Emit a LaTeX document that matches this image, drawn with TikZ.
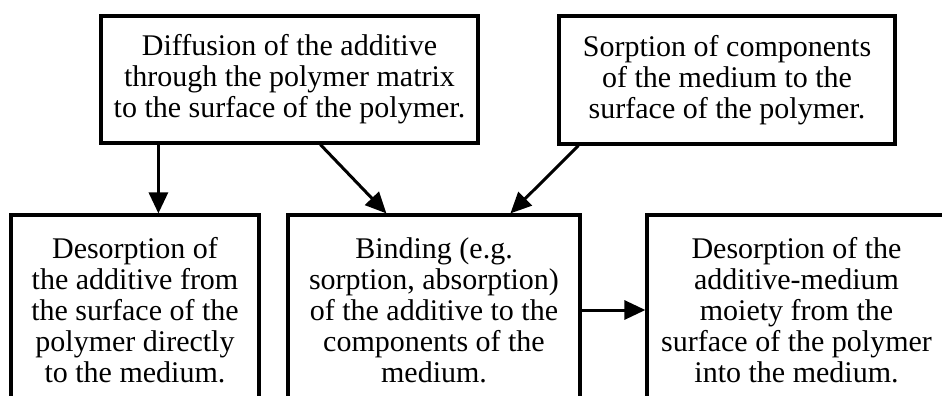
\documentclass[tikz,border=0pt]{standalone}
\usepackage{fontspec}
\setmainfont{Liberation Serif}
\usetikzlibrary{arrows.meta}
\begin{document}
\begin{tikzpicture}[x=1pt,y=-1pt,
  box/.style={draw,line width=3.2pt,align=center,inner sep=0pt,
    font=\fontsize{30}{31}\selectfont},
  arr/.style={line width=3pt,-{Triangle[length=21pt,width=19pt]}}]
\useasboundingbox (0,0) rectangle (942,396);
\clip (0,0) rectangle (942,396);
\node[box,minimum width=377pt,minimum height=127pt] (A) at (289.5,79.5)
  {Diffusion of the additive\\through the polymer matrix\\to the surface of the polymer.};
\node[box,minimum width=336pt,minimum height=128pt] (B) at (727,80)
  {Sorption of components\\of the medium to the\\surface of the polymer.};
\node[box,minimum width=248pt,minimum height=190pt] (C) at (135,310)
  {Desorption of\\the additive from\\the surface of the\\polymer directly\\to the medium.};
\node[box,minimum width=292pt,minimum height=190pt] (D) at (434,310)
  {Binding (e.g.\\sorption, absorption)\\of the additive to the\\components of the\\medium.};
\node[box,minimum width=299pt,minimum height=190pt] (E) at (796.5,310)
  {Desorption of the\\additive-medium\\moiety from the\\surface of the polymer\\into the medium.};
\draw[arr] ([xshift=59pt]A.south west) -- ([xshift=59pt]A.south west |- C.north);
\draw[arr] ([xshift=221pt]A.south west) -- ([xshift=100pt]D.north west);
\draw[arr] ([xshift=21pt]B.south west) -- ([xshift=224pt]D.north west);
\draw[arr] (D.east) -- (E.west);
\end{tikzpicture}
\end{document}
